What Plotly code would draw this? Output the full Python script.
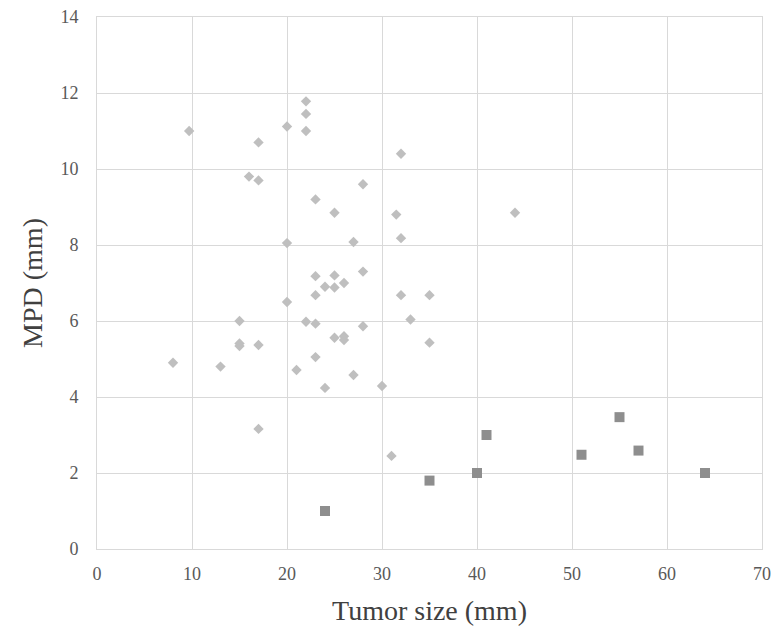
import plotly.graph_objects as go

# Group 1 (diamonds)
g1_x = [9.7, 22, 22, 20, 22, 17, 32, 16, 17, 28, 23, 25, 31.5, 44, 32, 20, 27,
        28, 23, 25, 24, 25, 26, 23, 32, 35, 20, 15, 22, 23, 28, 33, 15, 15, 17,
        25, 26, 26, 35, 8, 13, 23, 21, 27, 24, 30, 17, 31]
g1_y = [11.0, 11.78, 11.45, 11.12, 11.0, 10.7, 10.4, 9.8, 9.7, 9.6, 9.2, 8.85, 8.8, 8.85, 8.18, 8.05, 8.08,
        7.3, 7.18, 7.2, 6.9, 6.88, 7.0, 6.68, 6.68, 6.68, 6.5, 6.0, 5.98, 5.93, 5.86, 6.04, 5.41, 5.34, 5.37,
        5.56, 5.6, 5.5, 5.43, 4.9, 4.8, 5.05, 4.71, 4.58, 4.24, 4.29, 3.16, 2.45]

# Group 2 (squares)
g2_x = [24, 35, 40, 41, 51, 55, 57, 64]
g2_y = [1.0, 1.8, 2.0, 3.0, 2.48, 3.47, 2.59, 2.0]

x_ticks = [0, 10, 20, 30, 40, 50, 60, 70]
y_ticks = [0, 2, 4, 6, 8, 10, 12, 14]

fig = go.Figure()
fig.add_trace(go.Scatter(x=g1_x, y=g1_y, mode="markers",
                         marker=dict(symbol="diamond", size=8, color="#BFBFBF"),
                         showlegend=False, cliponaxis=False))
fig.add_trace(go.Scatter(x=g2_x, y=g2_y, mode="markers",
                         marker=dict(symbol="square", size=10, color="#8E8E8E"),
                         showlegend=False, cliponaxis=False))

font = "Liberation Serif, Times New Roman, serif"
fig.update_layout(
    width=772, height=628,
    margin=dict(l=97, r=10, t=17, b=79),
    plot_bgcolor="white", paper_bgcolor="white",
    font=dict(family=font, color="#595959", size=18),
)
fig.update_xaxes(range=[0, 70], tickvals=x_ticks, showgrid=True, gridcolor="#D9D9D9",
                 gridwidth=1, zeroline=False, showline=True, linecolor="#D9D9D9",
                 linewidth=1, mirror=True, ticks="", automargin=False,
                 ticklabelstandoff=8, ticklabeloverflow="allow",
                 title=dict(text="Tumor size (mm)", font=dict(size=28, color="#404040", family=font), standoff=17))
fig.update_yaxes(range=[0, 14], tickvals=y_ticks, showgrid=True, gridcolor="#D9D9D9",
                 gridwidth=1, zeroline=False, showline=True, linecolor="#D9D9D9",
                 linewidth=1, mirror=True, ticks="", automargin=False,
                 ticklabelstandoff=14, ticklabeloverflow="allow",
                 title=dict(text="MPD (mm)", font=dict(size=28, color="#404040", family=font), standoff=9))

# remove the browser's default 8px body margin so the figure fills the window
fig.write_html("out.html", config={"displayModeBar": False},
               post_script="document.body.style.margin='0';document.body.style.overflow='hidden';")
